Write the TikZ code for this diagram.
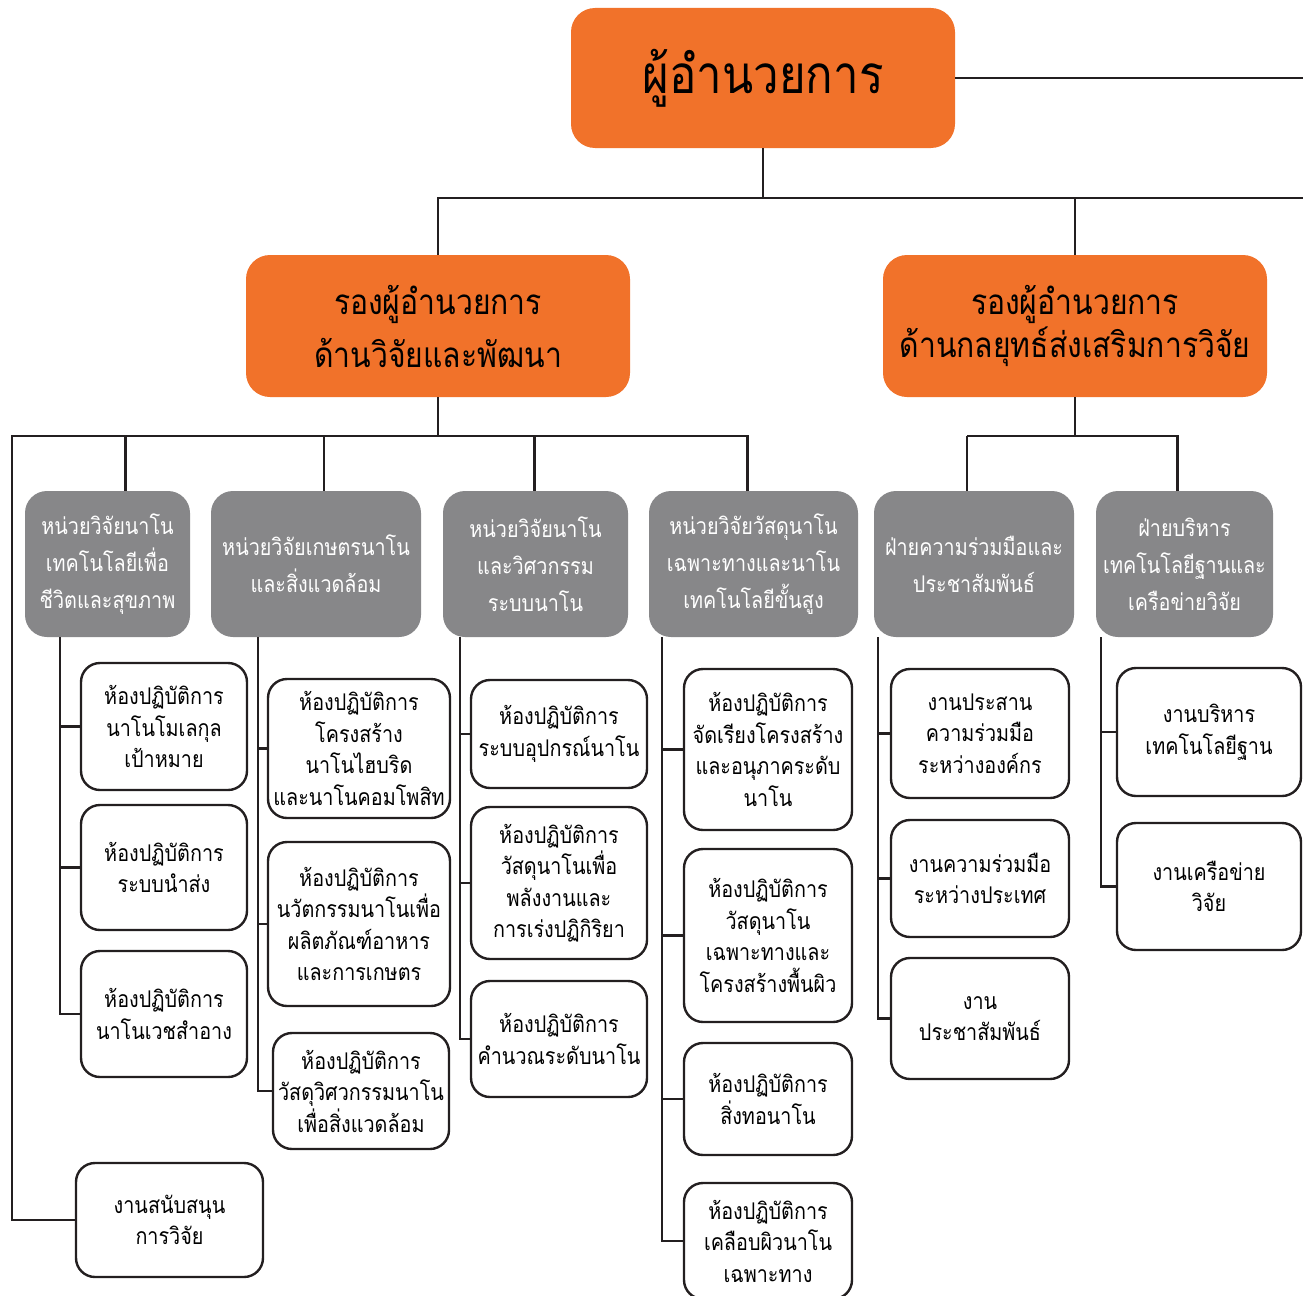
\documentclass[tikz,border=0pt]{standalone}
\usepackage{fontspec}
\newfontfamily\thaifont[Script=Thai, FakeStretch=0.86]{Loma}
\usetikzlibrary{positioning}
\definecolor{chieforange}{RGB}{241,114,42}
\definecolor{unitgray}{RGB}{135,135,137}
\definecolor{linedark}{RGB}{35,31,32}
\tikzset{
  chief/.style={fill=chieforange, rounded corners=24pt, align=center, inner sep=0pt, minimum width=384pt},
  unit/.style={fill=unitgray, text=white, rounded corners=22pt, align=center, inner sep=0pt, minimum height=146pt,
    font=\thaifont\fontsize{23}{37}\selectfont},
  lab/.style={draw=linedark, line width=2.4pt, rounded corners=19pt, align=center, inner sep=0pt,
    font=\thaifont\fontsize{23}{31.5}\selectfont},
  link/.style={draw=linedark, line width=2.4pt}
}
\begin{document}
\begin{tikzpicture}[x=1pt,y=-1pt]
\useasboundingbox (0,0) rectangle (1303,1295);

\node[chief, minimum height=140pt, font=\thaifont\fontsize{53}{56}\selectfont] (dir) at (763,78) {ผู้อำนวยการ};
\node[chief, minimum height=142pt, font=\thaifont\fontsize{35}{53}\selectfont] (vp_rd) at (438,326) {รองผู้อำนวยการ\\ด้านวิจัยและพัฒนา};
\node[chief, minimum height=142pt, font=\thaifont\fontsize{35}{43}\selectfont] (vp_st) at (1075,326) {รองผู้อำนวยการ\\ด้านกลยุทธ์ส่งเสริมการวิจัย};

\node[unit, minimum width=165pt] (u_1) at (107.5,564) {หน่วยวิจัยนาโน\\เทคโนโลยีเพื่อ\\ชีวิตและสุขภาพ};
\node[unit, minimum width=210pt] (u_2) at (316,564) {หน่วยวิจัยเกษตรนาโน\\และสิ่งแวดล้อม};
\node[unit, minimum width=185pt] (u_3) at (535.5,564) {หน่วยวิจัยนาโน\\และวิศวกรรม\\ระบบนาโน};
\node[unit, minimum width=209pt] (u_4) at (753.5,564) {หน่วยวิจัยวัสดุนาโน\\เฉพาะทางและนาโน\\เทคโนโลยีขั้นสูง};
\node[unit, minimum width=200pt] (u_5) at (974,564) {ฝ่ายความร่วมมือและ\\ประชาสัมพันธ์};
\node[unit, minimum width=177pt] (u_6) at (1184.5,564) {ฝ่ายบริหาร\\เทคโนโลยีฐานและ\\เครือข่ายวิจัย};

\node[lab, minimum width=166pt, minimum height=127pt] (l_11) at (164,726.5) {ห้องปฏิบัติการ\\นาโนโมเลกุล\\เป้าหมาย};
\node[lab, minimum width=166pt, minimum height=125pt] (l_12) at (164,867.5) {ห้องปฏิบัติการ\\ระบบนำส่ง};
\node[lab, minimum width=166pt, minimum height=126pt] (l_13) at (164,1014) {ห้องปฏิบัติการ\\นาโนเวชสำอาง};

\node[lab, minimum width=182pt, minimum height=139pt] (l_21) at (359,748.5) {ห้องปฏิบัติการ\\โครงสร้าง\\นาโนไฮบริด\\และนาโนคอมโพสิท};
\node[lab, minimum width=182pt, minimum height=164pt] (l_22) at (359,924) {ห้องปฏิบัติการ\\นวัตกรรมนาโนเพื่อ\\ผลิตภัณฑ์อาหาร\\และการเกษตร};
\node[lab, minimum width=176pt, minimum height=116pt] (l_23) at (361,1091) {ห้องปฏิบัติการ\\วัสดุวิศวกรรมนาโน\\เพื่อสิ่งแวดล้อม};

\node[lab, minimum width=176pt, minimum height=108pt] (l_31) at (559,734) {ห้องปฏิบัติการ\\ระบบอุปกรณ์นาโน};
\node[lab, minimum width=176pt, minimum height=152pt] (l_32) at (559,883) {ห้องปฏิบัติการ\\วัสดุนาโนเพื่อ\\พลังงานและ\\การเร่งปฏิกิริยา};
\node[lab, minimum width=176pt, minimum height=116pt] (l_33) at (559,1039) {ห้องปฏิบัติการ\\คำนวณระดับนาโน};

\node[lab, minimum width=168pt, minimum height=161pt] (l_41) at (768,749.5) {ห้องปฏิบัติการ\\จัดเรียงโครงสร้าง\\และอนุภาคระดับ\\นาโน};
\node[lab, minimum width=168pt, minimum height=173pt] (l_42) at (768,935.5) {ห้องปฏิบัติการ\\วัสดุนาโน\\เฉพาะทางและ\\โครงสร้างพื้นผิว};
\node[lab, minimum width=168pt, minimum height=112pt] (l_43) at (768,1099) {ห้องปฏิบัติการ\\สิ่งทอนาโน};
\node[lab, minimum width=168pt, minimum height=116pt] (l_44) at (768,1241) {ห้องปฏิบัติการ\\เคลือบผิวนาโน\\เฉพาะทาง};

\node[lab, minimum width=178pt, minimum height=129pt] (l_51) at (980,733.5) {งานประสาน\\ความร่วมมือ\\ระหว่างองค์กร};
\node[lab, minimum width=178pt, minimum height=117pt] (l_52) at (980,878.5) {งานความร่วมมือ\\ระหว่างประเทศ};
\node[lab, minimum width=178pt, minimum height=121pt] (l_53) at (980,1018.5) {งาน\\ประชาสัมพันธ์};

\node[lab, minimum width=184pt, minimum height=128pt] (l_61) at (1209,732) {งานบริหาร\\เทคโนโลยีฐาน};
\node[lab, minimum width=184pt, minimum height=127pt] (l_62) at (1209,886.5) {งานเครือข่าย\\วิจัย};

\node[lab, minimum width=187pt, minimum height=114pt] (sup) at (169.5,1220) {งานสนับสนุน\\การวิจัย};

% bus lines
\coordinate (edge_top) at (1303,82);
\coordinate (bus_top) at (1303,198);
\coordinate (bus_rd) at (12,436);
\coordinate (bus_st) at (967,436);
\coordinate (t_1) at (60,637);
\coordinate (t_2) at (258,637);
\coordinate (t_3) at (460,637);
\coordinate (t_4) at (662,637);
\coordinate (t_5) at (878,637);
\coordinate (t_6) at (1101,637);

\path[link]
  (dir.east) -- (dir.east -| edge_top)
  (dir.south) -- (dir.south |- bus_top)
  (vp_rd.north) |- (bus_top)
  (vp_st.north) -- (vp_st.north |- bus_top)
  (vp_rd.south) -- (vp_rd.south |- bus_rd)
  ([xshift=-6pt]u_4.north) |- (bus_rd) |- (sup.west)
  ([xshift=18pt]u_1.north) -- ([xshift=18pt]u_1.north |- bus_rd)
  ([xshift=8pt]u_2.north) -- ([xshift=8pt]u_2.north |- bus_rd)
  ([xshift=-1pt]u_3.north) -- ([xshift=-1pt]u_3.north |- bus_rd)
  (vp_st.south) -- (vp_st.south |- bus_st)
  ([xshift=-7pt]u_5.north) |- (bus_st)
  ([xshift=-7pt]u_6.north) |- (bus_st)
  (t_1) |- (l_11.west) (t_1) |- (l_12.west) (t_1) |- (l_13.west)
  (t_2) |- (l_21.west) (t_2) |- (l_22.west) (t_2) |- (l_23.west)
  (t_3) |- (l_31.west) (t_3) |- (l_32.west) (t_3) |- (l_33.west)
  (t_4) |- (l_41.west) (t_4) |- (l_42.west) (t_4) |- (l_43.west) (t_4) |- (l_44.west)
  (t_5) |- (l_51.west) (t_5) |- (l_52.west) (t_5) |- (l_53.west)
  (t_6) |- (l_61.west) (t_6) |- (l_62.west);

\end{tikzpicture}
\end{document}
